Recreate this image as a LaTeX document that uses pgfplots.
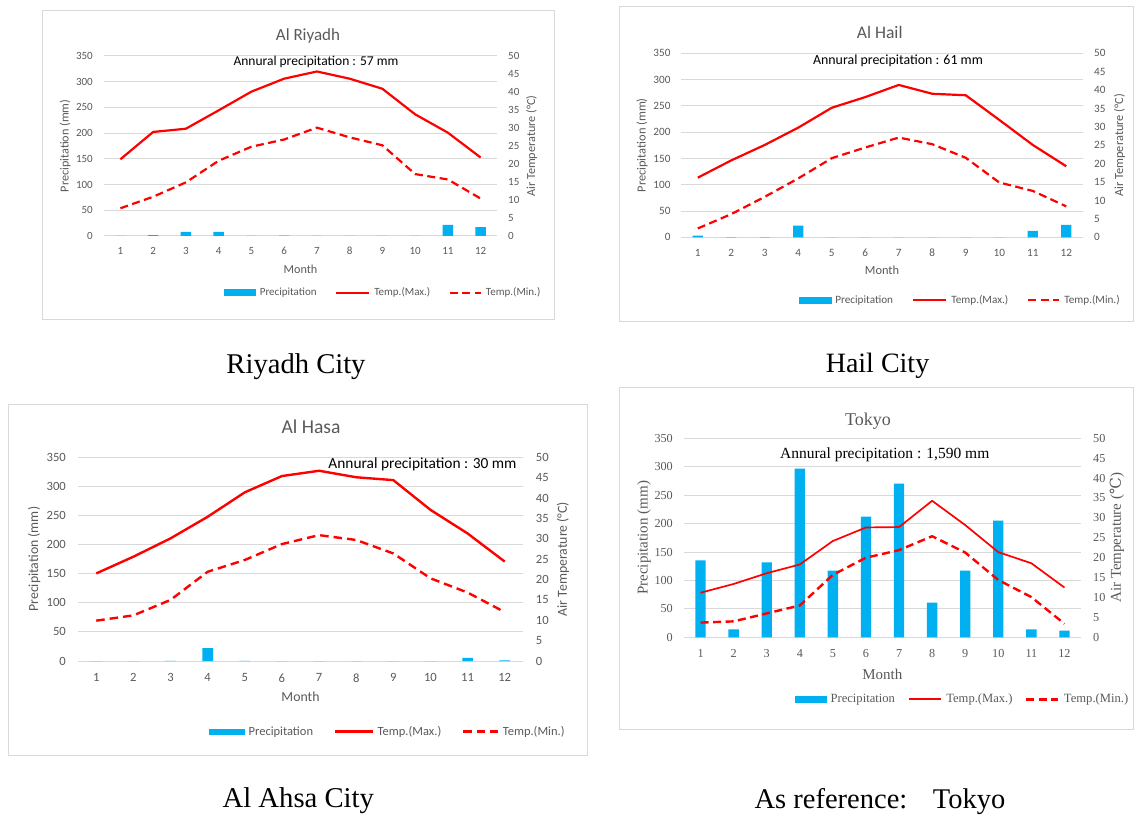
\documentclass[border=0pt]{standalone}
\usepackage{fontspec}
\setmainfont{Carlito}
\newfontfamily\timesf{Liberation Serif}
\newfontfamily\degfont{DejaVu Serif}
\usepackage{pgfplots}
\usepackage{pgfplotstable}
\pgfplotsset{compat=1.18}

\definecolor{barcyan}{RGB}{0,176,240}
\definecolor{tred}{RGB}{255,0,0}
\definecolor{gridgrey}{RGB}{217,217,217}
\definecolor{textgrey}{RGB}{89,89,89}
\definecolor{framegrey}{RGB}{217,217,217}

% month, precipitation (mm), max and min air temperature (deg C)
\pgfplotstableread{
m  p     tmax tmin
1  0     21.3 7.7
2  1.5   28.9 10.9
3  7.8   29.8 14.9
4  8.0   34.9 20.9
5  0     40.1 24.8
6  0.6   43.7 26.8
7  0.3   45.7 30.1
8  0     43.7 27.4
9  0     40.9 25.2
10 0     33.8 17.2
11 21.5  28.7 15.7
12 17.3  21.8 10.4
}\riyadh

\pgfplotstableread{
m  p     tmax tmin
1  3.0   16.2 2.4
2  0.3   20.9 6.3
3  0.2   25.1 11.0
4  22.0  29.8 16.0
5  0     35.2 21.5
6  0     38.1 24.4
7  0     41.4 27.1
8  0     39.0 25.3
9  0     38.6 21.6
10 0     31.9 14.9
11 12.0  25.1 12.6
12 23.5  19.3 8.4
}\hail

\pgfplotstableread{
m  p     tmax tmin
1  0     21.5 9.9
2  0     25.6 11.2
3  0.4   30.1 15.0
4  22.0  35.4 21.9
5  0.4   41.4 24.8
6  0     45.4 28.7
7  0     46.7 30.9
8  0     45.1 29.7
9  0     44.4 26.4
10 0     37.1 20.3
11 5.2   31.3 16.8
12 1.2   24.4 12.0
}\hasa

\pgfplotstableread{
m  p      tmax tmin
1  135.4  11.2 3.7
2  14.1   13.4 4.0
3  131.9  16.1 6.0
4  296.6  18.3 8.0
5  117.2  24.2 15.7
6  212.2  27.6 20.0
7  270.2  27.7 21.9
8  61.0   34.3 25.4
9  117.2  28.2 21.3
10 205.2  21.4 14.4
11 14.1   18.6 10.1
12 11.7   12.5 3.4
}\tokyo

\pgfplotsset{
  climate left/.style={
    scale only axis, anchor=south west,
    xmin=0.5, xmax=12.5, ymin=0, ymax=350,
    xtick={1,...,12}, ytick={0,50,...,350},
    axis line style={draw=none}, major tick length=0pt,
    ymajorgrids, grid style={gridgrey, line width=1pt},
    ybar, bar width=10.3pt,
    /pgf/number format/assume math mode=true,
    tick label style={text=textgrey},
    xticklabel style={anchor=north, inner sep=0pt},
    yticklabel style={anchor=east, inner sep=0pt},
  },
  climate right/.style={
    scale only axis, anchor=south west,
    xmin=0.5, xmax=12.5, ymin=0, ymax=50,
    ytick={0,5,...,50},
    axis x line=none, axis y line*=right,
    y axis line style={draw=none}, major tick length=0pt,
    /pgf/number format/assume math mode=true,
    tick label style={text=textgrey},
    yticklabel style={anchor=west, inner sep=0pt},
    legend columns=3,
    legend cell align=left,
  },
  % legend keys: a flat bar and a short red stroke
  rain key/.style 2 args={legend image code/.code={\fill[barcyan] (0pt,-#2) rectangle (#1,#2);}},
  temp key/.style 2 args={legend image code/.code={\draw[tred, #2] (0pt,0pt) -- (#1,0pt);}},
}

\begin{document}
\begin{tikzpicture}
\path[use as bounding box] (0pt,0pt) rectangle (1134pt,817pt);

% ---------------- Al Riyadh ----------------
\draw[framegrey, line width=1pt] (42.7pt,497.7pt) rectangle (554.3pt,806pt);
\begin{axis}[climate left, at={(104pt,581pt)}, width=393pt, height=180pt,
  tick label style={font=\fontsize{11}{13}\selectfont},
  xticklabel style={yshift=-11.2pt},
  yticklabel style={xshift=-11pt},
  xlabel={Month}, ylabel={Precipitation (mm)},
  every axis y label/.style={at={(axis description cs:-0.099,0.5)}, anchor=center, rotate=90,
    font=\fontsize{12.2}{14}\selectfont, text=textgrey},
  every axis x label/.style={at={(axis description cs:0.5,-0.183)}, anchor=center,
    font=\fontsize{12.2}{14}\selectfont, text=textgrey}]
\addplot[fill=barcyan, draw=none] table[x=m,y=p]{\riyadh};
\end{axis}
\begin{axis}[climate right, at={(104pt,581pt)}, width=393pt, height=180pt,
  tick label style={font=\fontsize{11}{13}\selectfont},
  yticklabel style={xshift=11pt},
  ylabel={Air Temperature (°C)},
  every axis y label/.style={at={(axis description cs:1.088,0.5)}, anchor=center, rotate=90,
    font=\fontsize{12.2}{14}\selectfont, text=textgrey},
  legend style={at={(0.306,-0.315)}, anchor=west, draw=none, fill=none, inner sep=0pt,
    nodes={inner sep=0pt}, font=\fontsize{11}{13}\selectfont, text=textgrey,
    column sep=4pt, /tikz/every even column/.append style={column sep=18.5pt}}]
\addlegendimage{rain key={31pt}{3pt}}
\addlegendentry{Precipitation}
\addlegendimage{temp key={33pt}{line width=2.2pt}}
\addlegendentry{Temp.(Max.)}
\addlegendimage{temp key={31pt}{line width=2.2pt, dash pattern=on 8pt off 4.5pt}}
\addlegendentry{Temp.(Min.)}
\addplot[tred, line width=2.2pt, line join=round, forget plot] table[x=m,y=tmax]{\riyadh};
\addplot[tred, line width=2.2pt, line join=round, dash pattern=on 8pt off 4.5pt, forget plot] table[x=m,y=tmin]{\riyadh};
\end{axis}
\node[anchor=base, font=\fontsize{17}{20}\selectfont, text=textgrey] at (308pt,776.3pt) {Al Riyadh};
\node[anchor=base, font=\fontsize{13.5}{16}\selectfont] at (316pt,751pt) {Annural precipitation : 57 mm};
\node[anchor=base, font=\timesf\fontsize{28.6}{32}\selectfont] at (296pt,443.7pt) {Riyadh City};

% ---------------- Al Hail ----------------
\draw[framegrey, line width=1pt] (619pt,495.3pt) rectangle (1133.5pt,810.5pt);
\begin{axis}[climate left, at={(681pt,579.7pt)}, width=402pt, height=184pt,
  tick label style={font=\fontsize{11.2}{13}\selectfont},
  xticklabel style={yshift=-11.5pt},
  yticklabel style={xshift=-10.3pt},
  xlabel={Month}, ylabel={Precipitation (mm)},
  every axis y label/.style={at={(axis description cs:-0.097,0.5)}, anchor=center, rotate=90,
    font=\fontsize{12.4}{14}\selectfont, text=textgrey},
  every axis x label/.style={at={(axis description cs:0.5,-0.1815)}, anchor=center,
    font=\fontsize{12.4}{14}\selectfont, text=textgrey}]
\addplot[fill=barcyan, draw=none] table[x=m,y=p]{\hail};
\end{axis}
\begin{axis}[climate right, at={(681pt,579.7pt)}, width=402pt, height=184pt,
  tick label style={font=\fontsize{11.2}{13}\selectfont},
  yticklabel style={xshift=11pt},
  ylabel={Air Temperature (°C)},
  every axis y label/.style={at={(axis description cs:1.091,0.5)}, anchor=center, rotate=90,
    font=\fontsize{12.4}{14}\selectfont, text=textgrey},
  legend style={at={(0.2935,-0.342)}, anchor=west, draw=none, fill=none, inner sep=0pt,
    nodes={inner sep=0pt}, font=\fontsize{11.2}{13}\selectfont, text=textgrey,
    column sep=4pt, /tikz/every even column/.append style={column sep=18.8pt}}]
\addlegendimage{rain key={31.7pt}{3pt}}
\addlegendentry{Precipitation}
\addlegendimage{temp key={33.3pt}{line width=2.2pt}}
\addlegendentry{Temp.(Max.)}
\addlegendimage{temp key={31pt}{line width=2.2pt, dash pattern=on 8pt off 4.5pt}}
\addlegendentry{Temp.(Min.)}
\addplot[tred, line width=2.2pt, line join=round, forget plot] table[x=m,y=tmax]{\hail};
\addplot[tred, line width=2.2pt, line join=round, dash pattern=on 8pt off 4.5pt, forget plot] table[x=m,y=tmin]{\hail};
\end{axis}
\node[anchor=base, font=\fontsize{17.6}{20}\selectfont, text=textgrey] at (879.7pt,778.7pt) {Al Hail};
\node[anchor=base, font=\fontsize{13.9}{16}\selectfont] at (898pt,752.7pt) {Annural precipitation : 61 mm};
\node[anchor=base, font=\timesf\fontsize{28}{32}\selectfont] at (877.5pt,444.3pt) {Hail City};

% ---------------- Al Hasa ----------------
\draw[framegrey, line width=1pt] (8.3pt,62pt) rectangle (587.7pt,412pt);
\begin{axis}[climate left, at={(77.7pt,156pt)}, width=445.6pt, height=203.7pt,
  bar width=10.7pt,
  tick label style={font=\fontsize{12.6}{15}\selectfont},
  xticklabel style={yshift=-12.3pt},
  yticklabel style={xshift=-11.7pt},
  xlabel={Month}, ylabel={Precipitation (mm)},
  every axis y label/.style={at={(axis description cs:-0.0974,0.5)}, anchor=center, rotate=90,
    font=\fontsize{13.8}{16}\selectfont, text=textgrey},
  every axis x label/.style={at={(axis description cs:0.5,-0.177)}, anchor=center,
    font=\fontsize{13.8}{16}\selectfont, text=textgrey}]
\addplot[fill=barcyan, draw=none] table[x=m,y=p]{\hasa};
\end{axis}
\begin{axis}[climate right, at={(77.7pt,156pt)}, width=445.6pt, height=203.7pt,
  tick label style={font=\fontsize{12.6}{15}\selectfont},
  yticklabel style={xshift=12.4pt},
  ylabel={Air Temperature (°C)},
  every axis y label/.style={at={(axis description cs:1.089,0.5)}, anchor=center, rotate=90,
    font=\fontsize{13.8}{16}\selectfont, text=textgrey},
  legend style={at={(0.2947,-0.347)}, anchor=west, draw=none, fill=none, inner sep=0pt,
    nodes={inner sep=0pt}, font=\fontsize{12.5}{15}\selectfont, text=textgrey,
    column sep=4pt, /tikz/every even column/.append style={column sep=20.8pt}}]
\addlegendimage{rain key={35pt}{2.8pt}}
\addlegendentry{Precipitation}
\addlegendimage{temp key={37.4pt}{line width=2.4pt}}
\addlegendentry{Temp.(Max.)}
\addlegendimage{temp key={34.3pt}{line width=2.4pt, dash pattern=on 8.5pt off 5pt}}
\addlegendentry{Temp.(Min.)}
\addplot[tred, line width=2.4pt, line join=round, forget plot] table[x=m,y=tmax]{\hasa};
\addplot[tred, line width=2.4pt, line join=round, dash pattern=on 8.5pt off 5pt, forget plot] table[x=m,y=tmin]{\hasa};
\end{axis}
\node[anchor=base, font=\fontsize{19.6}{23}\selectfont, text=textgrey] at (311pt,383pt) {Al Hasa};
\node[anchor=base, font=\fontsize{15.4}{18}\selectfont] at (422.5pt,348.7pt) {Annural precipitation : 30 mm};
\node[anchor=base, font=\timesf\fontsize{28.7}{32}\selectfont] at (298.3pt,9.3pt) {Al Ahsa City};

% ---------------- Tokyo ----------------
\draw[framegrey, line width=1pt] (619.5pt,88pt) rectangle (1133.5pt,429.3pt);
\begin{axis}[climate left, at={(684pt,179.7pt)}, width=397pt, height=199pt,
  tick label style={font=\timesf\fontsize{12.2}{14}\selectfont},
  xticklabel style={yshift=-11.9pt},
  yticklabel style={xshift=-11pt},
  xlabel={Month}, ylabel={Precipitation (mm)},
  every axis y label/.style={at={(axis description cs:-0.1008,0.5)}, anchor=center, rotate=90,
    font=\timesf\fontsize{15}{17}\selectfont, text=textgrey},
  every axis x label/.style={at={(axis description cs:0.4995,-0.184)}, anchor=center,
    font=\timesf\fontsize{15}{17}\selectfont, text=textgrey}]
\addplot[fill=barcyan, draw=none] table[x=m,y=p]{\tokyo};
\end{axis}
\begin{axis}[climate right, at={(684pt,179.7pt)}, width=397pt, height=199pt,
  tick label style={font=\timesf\fontsize{12.2}{14}\selectfont},
  yticklabel style={xshift=12pt},
  ylabel={Air Temperature ({\degfont ℃})},
  every axis y label/.style={at={(axis description cs:1.0907,0.5)}, anchor=center, rotate=90,
    font=\timesf\fontsize{15}{17}\selectfont, text=textgrey},
  legend style={at={(0.2788,-0.3116)}, anchor=west, draw=none, fill=none, inner sep=0pt,
    nodes={inner sep=0pt}, font=\timesf\fontsize{12.6}{15}\selectfont, text=textgrey,
    column sep=4.3pt, /tikz/every even column/.append style={column sep=12.7pt}}]
\addlegendimage{rain key={31pt}{3pt}}
\addlegendentry{Precipitation}
\addlegendimage{temp key={32.6pt}{line width=1.7pt}}
\addlegendentry{Temp.(Max.)}
\addlegendimage{temp key={32pt}{line width=2.4pt, dash pattern=on 8pt off 4.5pt}}
\addlegendentry{Temp.(Min.)}
\addplot[tred, line width=1.7pt, line join=round, forget plot] table[x=m,y=tmax]{\tokyo};
\addplot[tred, line width=2.4pt, line join=round, dash pattern=on 8pt off 4.5pt, forget plot] table[x=m,y=tmin]{\tokyo};
\end{axis}
\node[anchor=base, font=\timesf\fontsize{18}{21}\selectfont, text=textgrey] at (868pt,391.3pt) {Tokyo};
\node[anchor=base, font=\timesf\fontsize{15.5}{18}\selectfont] at (884.7pt,358pt) {Annural precipitation : 1,590 mm};
\node[anchor=base, font=\timesf\fontsize{28.5}{32}\selectfont] at (880pt,8.7pt) {As reference:\hspace{0.9em}Tokyo};
\end{tikzpicture}
\end{document}
